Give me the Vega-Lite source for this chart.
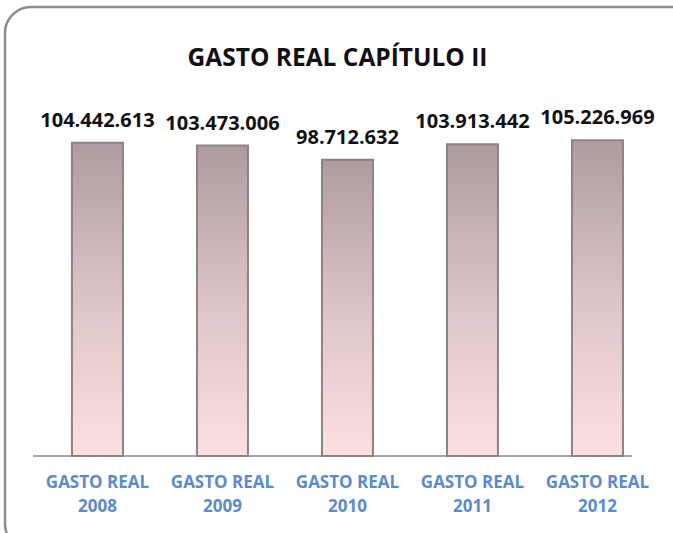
{
  "$schema": "https://vega.github.io/schema/vega-lite/v6.json",
  "autosize": "none",
  "width": 695,
  "height": 543,
  "padding": {"left": 5, "top": 7, "right": 0, "bottom": 0},
  "background": "white",
  "config": {
    "view": {"stroke": "#8c8c8c", "strokeWidth": 2.5, "cornerRadius": 26, "fill": "white"},
    "locale": {"number": {"decimal": ",", "thousands": ".", "grouping": [3], "currency": ["", " €"]}}
  },
  "title": {
    "text": "GASTO REAL CAPÍTULO II",
    "font": "Open Sans",
    "fontSize": 24.5,
    "fontWeight": "bold",
    "color": "#111111",
    "anchor": "middle",
    "frame": "group",
    "offset": -64,
    "dx": -15
  },
  "data": {
    "values": [
      {"periodo": "GASTO REAL 2008", "gasto": 104442613},
      {"periodo": "GASTO REAL 2009", "gasto": 103473006},
      {"periodo": "GASTO REAL 2010", "gasto": 98712632},
      {"periodo": "GASTO REAL 2011", "gasto": 103913442},
      {"periodo": "GASTO REAL 2012", "gasto": 105226969}
    ]
  },
  "encoding": {
    "x": {
      "field": "periodo",
      "type": "nominal",
      "sort": null,
      "scale": {
        "domain": ["GASTO REAL 2008", "GASTO REAL 2009", "GASTO REAL 2010", "GASTO REAL 2011", "GASTO REAL 2012"],
        "paddingInner": 0.592, "paddingOuter": 0.576, "align": 0.465
      },
      "axis": {
        "title": null,
        "orient": "bottom",
        "offset": -94,
        "domain": false,
        "ticks": false,
        "labelAngle": 0,
        "labelFont": "Open Sans",
        "labelFontSize": 17,
        "labelFontWeight": "bold",
        "labelColor": "#5b8bc9",
        "labelPadding": 18,
        "labelLineHeight": 24,
        "labelBaseline": "top",
        "labelExpr": "[slice(datum.label, 0, 10), slice(datum.label, 11)]"
      }
    },
    "y": {
      "field": "gasto",
      "type": "quantitative",
      "scale": {"domain": [-31333333, 149666667], "nice": false, "zero": false},
      "axis": null
    }
  },
  "layer": [
    {
      "mark": {"type": "rule", "color": "#a6a6a6", "strokeWidth": 1.5, "x2Offset": 34},
      "encoding": {
        "x": {"datum": "GASTO REAL 2008", "bandPosition": -0.76},
        "x2": {"datum": "GASTO REAL 2012"},
        "y": {"datum": 0}
      }
    },
    {
      "mark": {
        "type": "bar",
        "stroke": "#8e8283",
        "strokeWidth": 2,
        "color": {
          "gradient": "linear",
          "x1": 0, "y1": 0, "x2": 0, "y2": 1,
          "stops": [
            {"offset": 0, "color": "#ae9ca0"},
            {"offset": 0.5, "color": "#dcc4c6"},
            {"offset": 1, "color": "#fde0e0"}
          ]
        }
      },
      "encoding": {"y2": {"datum": 0}}
    },
    {
      "mark": {
        "type": "text",
        "font": "Open Sans",
        "fontSize": 20,
        "fontWeight": "bold",
        "color": "#111111",
        "baseline": "bottom",
        "dy": -12
      },
      "encoding": {"text": {"field": "gasto", "type": "quantitative", "format": ",d"}}
    }
  ]
}
